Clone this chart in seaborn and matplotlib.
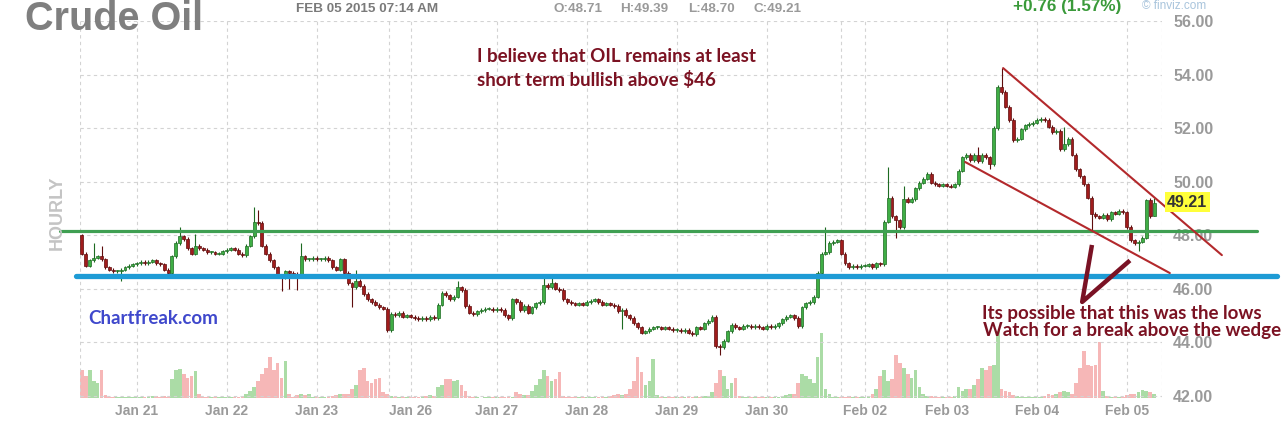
import numpy as np
import pandas as pd
import seaborn as sns
import matplotlib.pyplot as plt

sns.set_style("white")
plt.rcParams["font.family"] = ["Liberation Sans", "DejaVu Sans"]

# hourly closes, one list per session
jan20 = [47.3, 46.85, 47.05, 47.15, 47.2, 47.1, 46.8, 46.7, 46.65, 46.65, 46.7, 46.8, 46.85, 46.9]
jan21 = [46.95, 47.0, 46.95, 47.0, 47.05, 46.95, 46.9, 46.7, 46.6, 47.2, 47.7, 47.95, 47.85,
         47.5, 47.3, 47.6, 47.5, 47.45, 47.35, 47.35, 47.3, 47.3, 47.4]
jan22 = [47.45, 47.5, 47.45, 47.3, 47.25, 47.6, 47.95, 48.5, 48.45, 47.6, 47.3, 47.05, 46.8,
         46.5, 46.4, 46.65, 46.6, 46.55, 46.5, 47.2, 47.1, 47.1, 47.15]
jan23 = [47.1, 47.1, 47.15, 47.05, 46.8, 46.7, 47.1, 46.6, 46.2, 46.05, 46.3, 46.1, 45.8,
         45.6, 45.5, 45.4, 45.3, 45.25]
jan25 = [44.45, 45.05, 45.0, 45.1, 44.95, 45.0]
jan26 = [44.95, 44.9, 44.85, 44.9, 44.85, 44.95, 44.9, 45.4, 45.85, 45.75, 45.6, 45.7, 46.05,
         45.95, 45.35, 45.1, 45.05, 45.15, 45.2, 45.25, 45.25, 45.2]
jan27 = [45.25, 45.2, 45.0, 44.9, 45.6, 45.5, 45.2, 45.35, 45.1, 45.3, 45.45, 45.5, 46.15,
         46.05, 46.2, 46.0, 45.95, 45.6, 45.5, 45.45, 45.4, 45.45, 45.4]
jan28 = [45.5, 45.55, 45.6, 45.5, 45.4, 45.45, 45.4, 45.35, 45.15, 45.2, 45.0, 44.9, 44.7,
         44.55, 44.35, 44.4, 44.5, 44.55, 44.55, 44.5, 44.55, 44.5, 44.45]
jan29 = [44.45, 44.4, 44.45, 44.35, 44.3, 44.55, 44.5, 44.7, 44.8, 44.95, 43.85, 43.8, 44.05,
         44.4, 44.65, 44.55, 44.5, 44.6, 44.6, 44.55, 44.6, 44.55, 44.5]
jan30 = [44.6, 44.55, 44.6, 44.7, 44.85, 44.95, 45.0, 44.9, 44.6, 45.3, 45.45, 45.5, 45.7,
         46.6, 47.3, 47.35, 47.7, 47.75, 47.8]
feb01 = [47.3, 46.95, 46.8, 46.85, 46.8, 46.85]
feb02 = [46.85, 46.9, 46.8, 46.95, 46.9, 48.5, 49.4, 48.7, 48.55, 48.3, 49.35, 49.25, 49.35,
         49.75, 49.95, 50.1, 50.3, 49.95, 49.9, 49.85, 49.9]
feb03 = [49.85, 49.8, 49.9, 50.4, 50.9, 51.0, 50.8, 51.0, 50.75, 51.0, 50.9, 50.65, 52.0,
         53.55, 53.35, 52.8, 52.3, 51.55, 51.6, 51.95, 52.1, 52.15, 52.2]
feb04 = [52.3, 52.35, 52.3, 52.05, 51.85, 51.9, 51.2, 51.4, 51.6, 51.0, 50.45, 50.2, 49.9,
         49.4, 48.8, 48.7, 48.65, 48.75, 48.6, 48.85, 48.8, 48.9, 48.85]
feb05 = [48.3, 47.8, 47.7, 47.75, 47.9, 49.3, 48.71, 49.21]

first_open = 48.0
wick_high = {0: 48.05, 3: 47.7, 5: 47.6, 25: 48.3, 29: 48.05, 44: 49.05, 45: 48.95, 56: 47.7,
             70: 46.7, 96: 46.3, 118: 46.4, 120: 46.45, 190: 48.3, 206: 50.55, 210: 49.85,
             229: 51.3, 235: 54.24, 251: 52.05, 273: 49.4, 274: 49.39}
wick_low = {10: 46.3, 51: 45.9, 53: 46.0, 55: 45.95, 69: 45.3, 138: 44.5, 163: 43.5,
            208: 47.9, 232: 50.45, 258: 48.1, 270: 47.4, 274: 48.70}

# volume (relative bar heights)
vol_jan20 = [75, 60, 75, 45, 40, 75, 8, 3, 2, 2, 3, 2, 2, 2]
vol_jan21 = [2, 3, 2, 3, 5, 5, 3, 5, 4, 50, 75, 78, 65, 55, 60, 72, 10, 3, 2, 2, 2, 2, 3]
vol_jan22 = [2, 2, 3, 3, 5, 10, 20, 30, 45, 65, 80, 110, 75, 95, 55, 100, 10, 3, 8, 12, 8, 10, 3]
vol_jan23 = [2, 2, 3, 2, 5, 8, 12, 10, 12, 25, 35, 75, 80, 45, 40, 50, 55, 15]
vol_jan25 = [12, 6, 3, 2, 2, 2]
vol_jan26 = [2, 2, 3, 5, 6, 8, 6, 30, 35, 50, 50, 45, 48, 35, 20, 5, 2, 2, 1, 2, 2, 2]
vol_jan27 = [2, 2, 3, 3, 3, 15, 12, 8, 8, 20, 35, 50, 75, 60, 45, 50, 70, 5, 3, 2, 2, 2, 2]
vol_jan28 = [2, 2, 3, 2, 2, 3, 5, 8, 10, 8, 10, 25, 45, 110, 70, 35, 45, 105, 8, 2, 2, 2, 2]
vol_jan29 = [2, 2, 3, 2, 3, 5, 3, 5, 5, 15, 40, 75, 60, 25, 40, 55, 5, 3, 2, 2, 2, 2, 2]
vol_jan30 = [2, 2, 2, 3, 5, 8, 10, 10, 40, 65, 60, 50, 40, 110, 175, 25, 10, 3, 2]
vol_feb01 = [3, 3, 5, 3, 2, 2]
vol_feb02 = [3, 5, 10, 25, 60, 75, 45, 50, 115, 95, 80, 65, 55, 75, 30, 10, 5, 5, 3, 3, 2]
vol_feb03 = [3, 3, 5, 30, 20, 25, 25, 35, 50, 80, 75, 85, 90, 180, 25, 20, 15, 8, 5, 3, 3, 3, 3]
vol_feb04 = [3, 3, 5, 10, 8, 12, 15, 20, 15, 12, 40, 80, 125, 90, 85, 90, 150, 20, 5, 3, 3, 2, 3]
vol_feb05 = [8, 10, 10, 15, 22, 20, 15, 10]

day_ticks = [14, 37, 60, 84, 106, 129, 152, 175, 200, 221, 244, 267]
day_labels = ["Jan 21", "Jan 22", "Jan 23", "Jan 26", "Jan 27", "Jan 28", "Jan 29",
              "Jan 30", "Feb 02", "Feb 03", "Feb 04", "Feb 05"]
weekend_breaks = [78.5, 194]

close = np.array(jan20 + jan21 + jan22 + jan23 + jan25 + jan26 + jan27 + jan28 + jan29
                 + jan30 + feb01 + feb02 + feb03 + feb04 + feb05)
volume = np.array(vol_jan20 + vol_jan21 + vol_jan22 + vol_jan23 + vol_jan25 + vol_jan26
                  + vol_jan27 + vol_jan28 + vol_jan29 + vol_jan30 + vol_feb01 + vol_feb02
                  + vol_feb03 + vol_feb04 + vol_feb05)
n = len(close)
idx = np.arange(n)
opn = np.concatenate([[first_open], close[:-1]])
high = np.maximum(opn, close) + 0.06
low = np.minimum(opn, close) - 0.06
for k, v in wick_high.items():
    high[k] = v
for k, v in wick_low.items():
    low[k] = v
up = close >= opn

W, H = 1285, 423
fig = plt.figure(figsize=(W / 100, H / 100), dpi=100)
ax = fig.add_axes([80 / W, 25 / H, 1082 / W, 377 / H])
axv = ax.twinx()

# volume
df = pd.DataFrame({"bar": idx, "vol": volume, "dir": np.where(up, "up", "down")})
sns.barplot(data=df, x="bar", y="vol", hue="dir", palette={"up": "#abdca6", "down": "#f6b7b7"},
            native_scale=True, dodge=False, width=0.95, saturation=1, linewidth=0,
            legend=False, ax=axv)
axv.set_ylim(0, 180 * 377 / 67)
axv.set_yticks([])
axv.set_ylabel("")
axv.set_xlabel("")
for s in axv.spines.values():
    s.set_visible(False)

ax.set_zorder(axv.get_zorder() + 1)
ax.patch.set_visible(False)

# candles
body_col = np.where(up, "#3fae45", "#a01c1c")
edge_col = np.where(up, "#1d6b22", "#5e0d0d")
ax.vlines(idx, low, high, colors=edge_col, lw=0.8, zorder=3)
ax.bar(idx, np.maximum(np.abs(close - opn), 0.04), bottom=np.minimum(opn, close), width=0.75,
       color=body_col, edgecolor=edge_col, linewidth=0.5, zorder=4)

ax.set_xlim(-0.5, 276)
ax.set_ylim(41.91, 56.0)

grid_kw = dict(color="#d3d3d3", lw=0.8, ls=(0, (3, 3)), zorder=0)
for y in range(42, 57, 2):
    ax.axhline(y, **grid_kw)
for x in day_ticks + weekend_breaks + [-0.5, 276]:
    ax.axvline(x, **grid_kw)

for s in ax.spines.values():
    s.set_visible(False)
ax.yaxis.tick_right()
ax.set_yticks(range(42, 57, 2))
ax.set_yticklabels([f"{v:.2f}" for v in range(42, 57, 2)])
ax.set_xticks(day_ticks)
ax.set_xticklabels(day_labels)
ax.tick_params(axis="y", length=0, pad=8, labelsize=11.5, labelcolor="#9a9a9a")
ax.tick_params(axis="x", length=0, pad=4, labelsize=10, labelcolor="#9a9a9a")
for t in ax.get_yticklabels() + ax.get_xticklabels():
    t.set_fontweight("bold")

# support lines and wedge
ax.plot([-5.6, 300.3], [48.15, 48.15], color="#3f9f52", lw=2.3, clip_on=False, zorder=6)
ax.plot([-1.5, 305.4], [46.47, 46.47], color="#1e9bd5", lw=3.8, clip_on=False, zorder=6)
ax.plot([235.4, 291.3], [54.24, 47.25], color="#b3292c", lw=1.5, clip_on=False, zorder=6)
ax.plot([225.7, 278.0], [50.73, 46.58], color="#b3292c", lw=1.5, clip_on=False, zorder=6)
ax.plot([258.1, 255.6, 267.8], [47.63, 45.5, 47.05], color="#7a1224", lw=3.2,
        solid_capstyle="butt", clip_on=False, zorder=6)


def ftext(x, y, s, **kw):
    fig.text(x / W, 1 - y / H, s, **kw)


ftext(25, 19, "Crude Oil", fontsize=28.5, fontweight="bold", color="#7f7f7f", va="center")
ftext(296, 9, "FEB 05 2015 07:14 AM", fontsize=9.7, fontweight="bold", color="#7a7a7a", va="center")
for xx, s in [(553, "O:48.71"), (620, "H:49.39"), (688, "L:48.70"), (753, "C:49.21")]:
    ftext(xx, 9, s, fontsize=9.7, fontweight="bold", color="#9a9a9a", va="center")
ftext(1013, 7, "+0.76 (1.57%)", fontsize=12.3, fontweight="bold", color="#3a9a3a", va="center")
ftext(1142, 6, "\u00a9 finviz.com", fontsize=8.5, color="#a8c4dc", va="center")
ftext(57, 213, "HOURLY", fontsize=13, fontweight="bold", color="#c4c4c4", rotation=90,
      ha="center", va="center")
ftext(1167, 202, "49.21", fontsize=11.5, fontweight="bold", color="#333333", va="center",
      bbox=dict(boxstyle="square,pad=0.15", fc="#ffff3a", ec="none"))

ann = dict(fontsize=13.5, fontweight="bold", color="#7b1222", va="center", family=["Lato", "DejaVu Sans"])
ftext(477, 57, "I believe that OIL remains at least", **ann)
ftext(477, 80, "short term bullish above $46", **ann)
ftext(982, 314, "Its possible that this was the lows", **ann)
ftext(983, 330, "Watch for a break above the wedge", **ann)
ftext(88, 318, "Chartfreak.com", fontsize=13.5, fontweight="bold", color="#3f48cc", va="center",
      family=["Lato", "DejaVu Sans"])

fig.savefig("out.png", dpi=100)
